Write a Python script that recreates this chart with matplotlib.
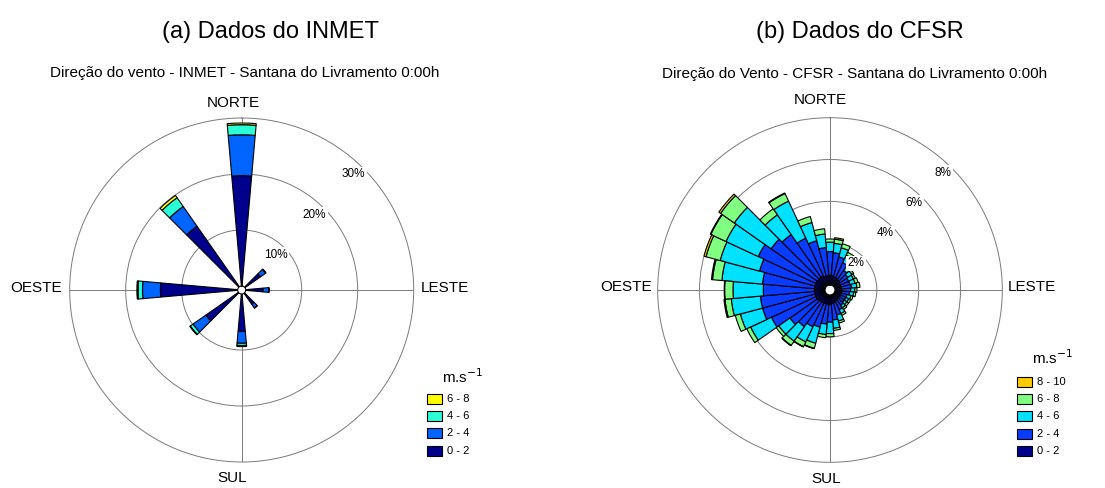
import numpy as np
import matplotlib.pyplot as plt
from matplotlib.patches import Rectangle

plt.rcParams['font.family'] = ['Liberation Sans', 'DejaVu Sans']

# ── Data ──────────────────────────────────────────────────────────────────────

# (a) INMET, frequency (%) per direction and speed class
dir_a = [0, 50, 90, 140, 180, 230, 270, 320]
a_0_2 = [19.7, 3.4, 3.1, 2.4, 6.7, 7.1, 13.8, 13.2]
a_2_4 = [7.3, 1.1, 1.0, 0.8, 2.1, 2.8, 3.2, 4.3]
a_4_6 = [1.8, 0.1, 0.1, 0.05, 0.4, 0.6, 0.8, 1.9]
a_6_8 = [0.3, 0.0, 0.0, 0.0, 0.2, 0.1, 0.2, 0.5]
classes_a = ['0 - 2', '2 - 4', '4 - 6', '6 - 8']

# (b) CFSR, 36 directions every 10 degrees
dir_b = list(range(0, 360, 10))
b_0_2 = [0.45, 0.45, 0.40, 0.40, 0.35, 0.35, 0.30, 0.30, 0.30, 0.30, 0.30, 0.30,
         0.30, 0.30, 0.30, 0.35, 0.40, 0.40, 0.45, 0.45, 0.45, 0.45, 0.45, 0.50,
         0.50, 0.50, 0.50, 0.50, 0.50, 0.50, 0.50, 0.50, 0.50, 0.50, 0.45, 0.45]
b_2_4 = [1.15, 1.10, 1.00, 0.80, 0.55, 0.45, 0.45, 0.45, 0.50, 0.45, 0.40, 0.30,
         0.30, 0.30, 0.35, 0.45, 0.60, 0.80, 0.85, 0.95, 1.15, 1.25, 1.45, 1.60,
         2.35, 2.60, 2.60, 2.45, 2.50, 2.75, 3.05, 2.70, 2.50, 2.00, 1.75, 1.35]
b_4_6 = [0.45, 0.45, 0.45, 0.40, 0.25, 0.25, 0.25, 0.25, 0.25, 0.20, 0.20, 0.20,
         0.15, 0.15, 0.15, 0.20, 0.30, 0.40, 0.55, 0.50, 0.80, 0.80, 0.85, 0.65,
         1.10, 1.10, 1.40, 1.45, 1.95, 1.95, 1.70, 2.15, 1.15, 1.95, 0.90, 0.65]
b_6_8 = [0.15, 0.20, 0.20, 0.15, 0.10, 0.10, 0.10, 0.15, 0.15, 0.10, 0.10, 0.10,
         0.10, 0.10, 0.10, 0.10, 0.10, 0.10, 0.15, 0.15, 0.25, 0.25, 0.25, 0.15,
         0.20, 0.25, 0.30, 0.40, 0.45, 0.70, 0.80, 0.80, 0.35, 0.40, 0.30, 0.25]
b_8_10 = [0.00, 0.07, 0.00, 0.00, 0.00, 0.00, 0.00, 0.00, 0.00, 0.00, 0.00, 0.00,
          0.00, 0.00, 0.00, 0.00, 0.00, 0.00, 0.00, 0.00, 0.02, 0.02, 0.02, 0.00,
          0.00, 0.00, 0.05, 0.02, 0.05, 0.10, 0.03, 0.10, 0.00, 0.03, 0.00, 0.00]
classes_b = ['0 - 2', '2 - 4', '4 - 6', '6 - 8', '8 - 10']

rings_a = [10, 20, 30]
rings_b = [2, 4, 6, 8]

colors_a = ['#00008C', '#0064FF', '#2AFFD5', '#FFFF00']
colors_b = ['#00008C', '#0A3CFF', '#00E0FF', '#80FF80', '#FFCC00']

W, H = 1105, 488


def fx(px):
    return px / W


def fy(py):
    return 1 - py / H


def rose(ax, dirs, layers, colors, rings, hole, label_off):
    theta = np.deg2rad(dirs)
    bottom = np.zeros(len(dirs))
    for vals, c in zip(layers, colors):
        vals = np.asarray(vals, dtype=float)
        m = vals > 0
        ax.bar(theta[m], vals[m], width=np.deg2rad(10), bottom=bottom[m],
               color=c, edgecolor='black', linewidth=0.8, zorder=3)
        bottom += vals
    ax.set_theta_zero_location('N')
    ax.set_theta_direction(-1)
    ax.set_ylim(0, rings[-1])
    ax.set_rorigin(-hole)
    ax.set_rgrids(rings[:-1], labels=[''] * (len(rings) - 1))
    ax.set_thetagrids([0, 90, 180, 270], labels=[''] * 4)
    ax.grid(True, color='#7a7a7a', linewidth=0.7)
    ax.spines['polar'].set_edgecolor('#7a7a7a')
    ax.spines['polar'].set_linewidth(0.7)
    ax.spines['inner'].set_visible(False)
    for r in rings:
        ax.text(np.deg2rad(44), r - label_off, f'{r}%', fontsize=8.5,
                ha='center', va='center', zorder=6,
                bbox=dict(facecolor='white', edgecolor='none', pad=1.0))


def legend(x_box, y_rows, labels, colors, title_xy):
    fig.text(fx(title_xy[0]), fy(title_xy[1]), 'm.s$^{-1}$', fontsize=11,
             ha='center', va='center')
    for y, lab, c in zip(y_rows, labels, colors):
        fig.patches.append(Rectangle((fx(x_box), fy(y + 5)), 15 / W, 10 / H,
                                     transform=fig.transFigure, facecolor=c,
                                     edgecolor='black', linewidth=0.8))
        fig.text(fx(x_box + 20), fy(y), lab, fontsize=8, ha='left', va='center')


fig = plt.figure(figsize=(W / 100, H / 100), dpi=100)

# left rose: centre (241.7, 290), radius 172
ax_a = fig.add_axes([fx(69.7), fy(462), 344 / W, 344 / H], projection='polar')
rose(ax_a, dir_a, [a_0_2, a_2_4, a_4_6, a_6_8], colors_a, rings_a, 0.714, 2.0)

# right rose: centre (830, 290), radius 172.3
ax_b = fig.add_axes([fx(657.7), fy(462.3), 344.6 / W, 344.6 / H], projection='polar')
rose(ax_b, dir_b, [b_0_2, b_2_4, b_4_6, b_6_8, b_8_10], colors_b, rings_b, 0.239, 0.45)

# compass labels
for ax, pos in [(ax_a, [(0.475, 1.044, 'NORTE', 'center'), (1.021, 0.506, 'LESTE', 'left'),
                        (-0.022, 0.506, 'OESTE', 'right'), (0.472, -0.047, 'SUL', 'center')]),
                (ax_b, [(0.471, 1.051, 'NORTE', 'center'), (1.017, 0.509, 'LESTE', 'left'),
                        (-0.017, 0.509, 'OESTE', 'right'), (0.488, -0.049, 'SUL', 'center')])]:
    for x, y, s, ha in pos:
        ax.text(x, y, s, transform=ax.transAxes, fontsize=11, ha=ha, va='center')

# titles
fig.text(fx(270), fy(32), '(a) Dados do INMET', fontsize=17, ha='center', va='center')
fig.text(fx(860), fy(32), '(b) Dados do CFSR', fontsize=17, ha='center', va='center')
fig.text(fx(245), fy(73), 'Direção do vento - INMET - Santana do Livramento 0:00h',
         fontsize=11, ha='center', va='center')
fig.text(fx(855), fy(74), 'Direção do Vento - CFSR - Santana do Livramento 0:00h',
         fontsize=11, ha='center', va='center')

legend(427, [399, 416, 433, 451], classes_a[::-1], colors_a[::-1], (463, 377))
legend(1017, [382, 399, 416, 434, 451], classes_b[::-1], colors_b[::-1], (1053, 358))

fig.savefig('out.png', dpi=100, facecolor='white')
